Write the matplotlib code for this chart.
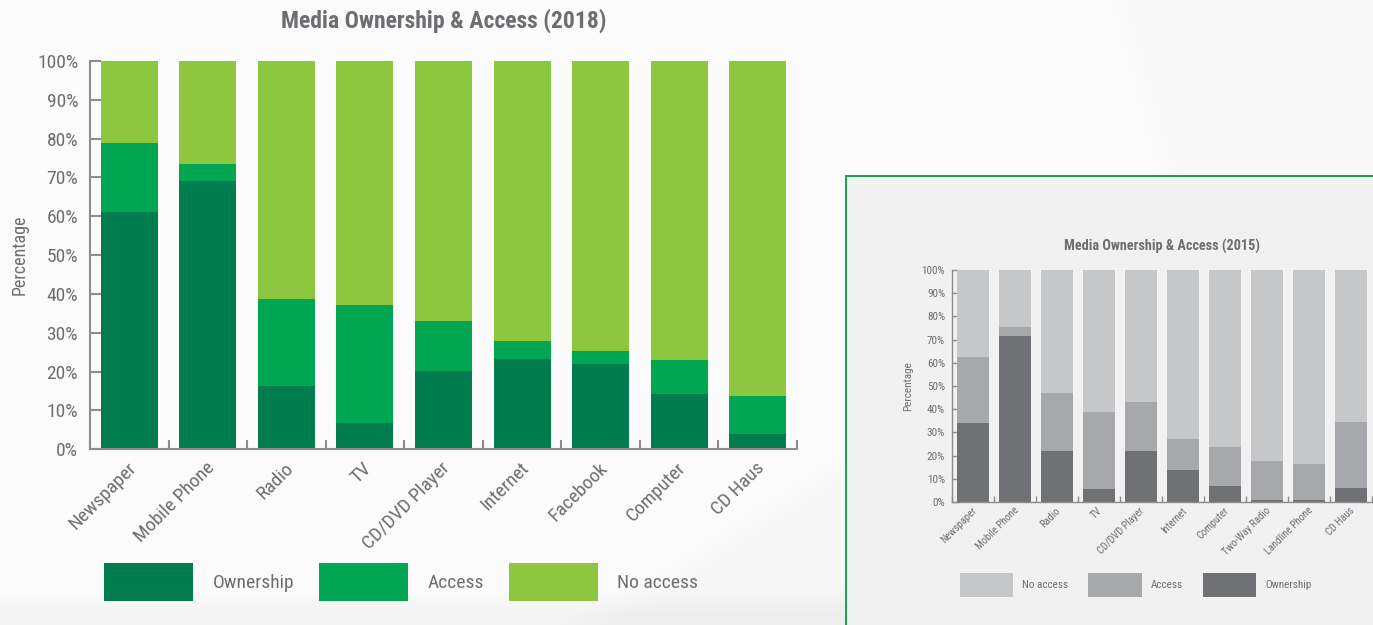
import matplotlib
matplotlib.use("Agg")
import matplotlib.pyplot as plt
import matplotlib.transforms as mtransforms
from matplotlib import font_manager as fm
from matplotlib.patches import Rectangle
from matplotlib.ticker import FixedLocator
import numpy as np

# ---- 2018 survey: share of respondents (%) ----
categories_2018 = ["Newspaper", "Mobile Phone", "Radio", "TV", "CD/DVD Player",
                   "Internet", "Facebook", "Computer", "CD Haus"]
ownership_2018 = [61.0, 69.0, 16.3, 6.8, 20.2, 23.3, 22.0, 14.3, 4.0]
access_2018 = [17.9, 4.6, 22.4, 30.4, 12.9, 4.6, 3.4, 8.7, 9.7]

# ---- 2015 survey: share of respondents (%) ----
categories_2015 = ["Newspaper", "Mobile Phone", "Radio", "TV", "CD/DVD Player",
                   "Internet", "Computer", "Two-Way Radio", "Landline Phone", "CD Haus"]
ownership_2015 = [34.0, 71.5, 21.9, 5.5, 21.9, 13.7, 6.8, 0.7, 0.7, 5.9]
access_2015 = [28.4, 3.9, 25.0, 33.2, 21.1, 13.4, 16.8, 16.9, 15.6, 28.5]

y_ticks = [0, 10, 20, 30, 40, 50, 60, 70, 80, 90, 100]
y_tick_labels = [f"{v}%" for v in y_ticks]


def pick_narrow_font():
    """Prefer a condensed sans face; fall back to a regular one."""
    entries = fm.fontManager.ttflist
    names = {f.name for f in entries}
    for want in ("Liberation Sans Narrow", "Roboto Condensed", "Open Sans Condensed",
                 "Noto Sans Condensed", "DejaVu Sans Condensed"):
        if want in names:
            return want, "normal"
    for f in entries:
        if f.name == "DejaVu Sans" and str(f.stretch) in ("condensed", "semi-condensed"):
            return "DejaVu Sans", "condensed"
    return "Roboto", "normal"


FONT, STRETCH = pick_narrow_font()
plt.rcParams["font.family"] = [FONT, "DejaVu Sans"]
plt.rcParams["font.stretch"] = STRETCH

W, H = 1373, 625
fig = plt.figure(figsize=(W / 100, H / 100), dpi=100)
fig.patch.set_facecolor("#fcfcfc")

TEXT = "#6d6e71"
SPINE = "#8c8c8c"


def fx(px):
    return px / W


def fy(py):
    return 1 - py / H


def add_px_axes(x0, x1, ytop, ybot):
    return fig.add_axes([fx(x0), fy(ybot), fx(x1 - x0), (ybot - ytop) / H])


# ---- soft page background shading ----
yy, xx = np.mgrid[0:H, 0:W].astype(float)
shade = np.full((H, W), 0.988)
shade -= np.clip((yy - 588) / 25, 0, 1) * 0.035                      # bottom band
diag = (yy - 625) + (xx - 560) * (185 / 285)                           # diagonal sweep
shade -= np.clip(diag / 40, 0, 1) * 0.018 * (xx < 846)
shade -= np.clip((xx - 1100 - yy * 0.28) / 30, 0, 1) * 0.012 * (yy < 176)  # top right
bg_ax = fig.add_axes([0, 0, 1, 1], zorder=-10)
bg_ax.imshow(np.dstack([shade] * 3), aspect="auto", interpolation="bilinear")
bg_ax.set_axis_off()


def style_axes(ax, n, spine_lw, ytick_len, xtick_len, ypad, fs_y):
    ax.set_facecolor("none")
    for s in ("top", "right"):
        ax.spines[s].set_visible(False)
    for s in ("left", "bottom"):
        ax.spines[s].set_color(SPINE)
        ax.spines[s].set_linewidth(spine_lw)
    ax.set_xlim(-0.5, n - 0.5)
    ax.set_ylim(0, 100)
    ax.set_yticks(y_ticks)
    ax.set_yticklabels(y_tick_labels)
    ax.tick_params(axis="y", direction="in", length=ytick_len, width=spine_lw,
                   color=SPINE, pad=ypad, labelsize=fs_y, labelcolor=TEXT)
    ax.xaxis.set_minor_locator(FixedLocator(np.arange(n + 1) - 0.5))
    ax.tick_params(axis="x", which="minor", direction="in", length=xtick_len,
                   width=spine_lw, color=SPINE)


def set_xlabels(ax, labels, fs, pad, dx):
    ax.set_xticks(np.arange(len(labels)))
    ax.set_xticklabels(labels, rotation=45, ha="right", va="center",
                       rotation_mode="anchor", fontsize=fs, color=TEXT)
    ax.tick_params(axis="x", which="major", length=0, pad=pad)
    off = mtransforms.ScaledTranslation(dx / 100, 0, fig.dpi_scale_trans)
    for lab in ax.get_xticklabels():
        lab.set_transform(lab.get_transform() + off)


# ================= 2018 chart =================
c_own, c_acc, c_no = "#007c4f", "#00a651", "#8dc63f"
ax = add_px_axes(90, 797, 61, 449.3)
n = len(categories_2018)
x = np.arange(n)
own = np.array(ownership_2018)
acc = np.array(access_2018)
no = 100 - own - acc
b1 = ax.bar(x, own, width=0.725, color=c_own, label="Ownership", zorder=2)
b2 = ax.bar(x, acc, bottom=own, width=0.725, color=c_acc, label="Access", zorder=2)
b3 = ax.bar(x, no, bottom=own + acc, width=0.725, color=c_no, label="No access", zorder=2)
style_axes(ax, n, 1.5, 8, 6.5, 8.5, 14)
set_xlabels(ax, categories_2018, 14, 11.5, 4)
ax.set_ylabel("Percentage", fontsize=13, color=TEXT, labelpad=6)
ax.set_title("Media Ownership & Access (2018)", fontsize=17, fontweight="bold",
             color=TEXT, pad=24)

fig.legend(handles=[b1, b2, b3], labels=["Ownership", "Access", "No access"],
           loc="upper left", bbox_to_anchor=(fx(104), fy(563)), ncol=3,
           frameon=False, fontsize=14, labelcolor=TEXT, handlelength=4.6,
           handleheight=2.63, handletextpad=1.0, columnspacing=1.25,
           borderpad=0, borderaxespad=0)

# ================= 2015 inset =================
fig.add_artist(Rectangle((fx(846), fy(640)), fx(560), (640 - 176) / H,
                         transform=fig.transFigure, facecolor="#f1f1f1",
                         edgecolor="#1ba14b", linewidth=1.4, zorder=-1))

g_own, g_acc, g_no = "#707175", "#a7a8ab", "#c6c7c9"
ax2 = add_px_axes(952, 1372, 270, 502)
n2 = len(categories_2015)
x2 = np.arange(n2)
own2 = np.array(ownership_2015)
acc2 = np.array(access_2015)
no2 = 100 - own2 - acc2
g1 = ax2.bar(x2, own2, width=0.74, color=g_own, label="Ownership", zorder=2)
g2 = ax2.bar(x2, acc2, bottom=own2, width=0.74, color=g_acc, label="Access", zorder=2)
g3 = ax2.bar(x2, no2, bottom=own2 + acc2, width=0.74, color=g_no, label="No access", zorder=2)
style_axes(ax2, n2, 1.0, 5, 4, 5, 8)
set_xlabels(ax2, categories_2015, 7.5, 5, 2)
ax2.set_ylabel("Percentage", fontsize=8, color=TEXT, labelpad=6)
ax2.set_title("Media Ownership & Access (2015)", fontsize=10.3, fontweight="bold",
              color=TEXT, pad=14)

fig.legend(handles=[g3, g2, g1], labels=["No access", "Access", "Ownership"],
           loc="upper left", bbox_to_anchor=(fx(960), fy(573)), ncol=3,
           frameon=False, fontsize=8, labelcolor=TEXT, handlelength=4.8,
           handleheight=2.95, handletextpad=0.8, columnspacing=1.8,
           borderpad=0, borderaxespad=0)

fig.savefig("out.png", dpi=100, facecolor=fig.get_facecolor())
